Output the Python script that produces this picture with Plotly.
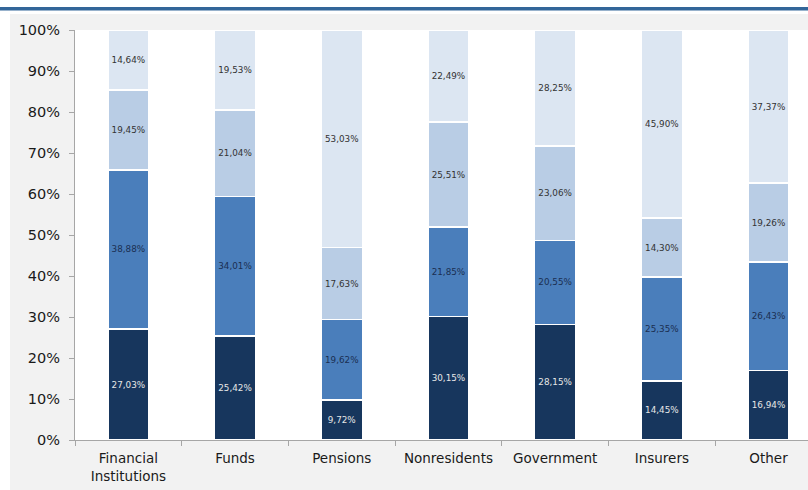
import plotly.graph_objects as go

categories = ["Financial<br>Institutions", "Funds", "Pensions", "Nonresidents", "Government", "Insurers", "Other"]
s1 = [27.03, 25.42, 9.72, 30.15, 28.15, 14.45, 16.94]
s2 = [38.88, 34.01, 19.62, 21.85, 20.55, 25.35, 26.43]
s3 = [19.45, 21.04, 17.63, 25.51, 23.06, 14.30, 19.26]
s4 = [14.64, 19.53, 53.03, 22.49, 28.25, 45.90, 37.37]
y_ticks = [0, 10, 20, 30, 40, 50, 60, 70, 80, 90, 100]
y_tick_labels = [f"{v}%" for v in y_ticks]

series = [
    (s1, "#17365d", "#e6e6e6"),
    (s2, "#4a7ebb", "#1b2f52"),
    (s3, "#b9cde5", "#333333"),
    (s4, "#dce6f2", "#333333"),
]

def fmt(v):
    return f"{v:.2f}".replace(".", ",") + "%"

fig = go.Figure()
for vals, col, tcol in series:
    fig.add_trace(go.Bar(
        x=categories, y=vals, width=0.385,
        marker=dict(color=col, line=dict(color="#ffffff", width=1.5)),
        text=[fmt(v) for v in vals], textposition="inside",
        insidetextanchor="middle", textangle=0, constraintext="none",
        textfont=dict(family="DejaVu Sans", size=8.8, color=tcol),
        hoverinfo="skip",
    ))

W, H = 808, 490
L, R, T, B = 75, 0, 30, 50
pw, ph = W - L - R, H - T - B

def px_x(x):
    return (x - L) / pw

def px_y(y):
    return (H - B - y) / ph

fig.update_layout(
    width=W, height=H,
    margin=dict(l=L, r=R, t=T, b=B, pad=0),
    barmode="stack",
    showlegend=False,
    paper_bgcolor="#f2f2f2",
    plot_bgcolor="#ffffff",
    shapes=[
        dict(type="rect", xref="paper", yref="paper", layer="above",
             x0=px_x(0), x1=px_x(W), y0=px_y(0), y1=px_y(14),
             fillcolor="#ffffff", line=dict(width=0)),
        dict(type="rect", xref="paper", yref="paper", layer="above",
             x0=px_x(0), x1=px_x(10), y0=px_y(0), y1=px_y(H),
             fillcolor="#ffffff", line=dict(width=0)),
        dict(type="rect", xref="paper", yref="paper", layer="above",
             x0=px_x(0), x1=px_x(W), y0=px_y(7), y1=px_y(10.5),
             fillcolor="#336699", line=dict(width=0)),
    ],
    xaxis=dict(
        range=[-0.5, 6.37], type="category",
        showline=True, linecolor="#a6a6a6", linewidth=1,
        ticks="outside", tickson="boundaries", ticklen=5, tickcolor="#a6a6a6",
        tickfont=dict(family="DejaVu Sans", size=13.5, color="#1a1a1a"),
        ticklabelstandoff=6,
        showgrid=False, fixedrange=True,
    ),
    yaxis=dict(
        range=[0, 100], tickvals=y_ticks, ticktext=y_tick_labels,
        showline=True, linecolor="#a6a6a6", linewidth=1,
        ticks="outside", ticklen=5, tickcolor="#a6a6a6",
        tickfont=dict(family="DejaVu Sans", size=14.5, color="#1a1a1a"),
        ticklabelstandoff=6,
        showgrid=False, zeroline=False, fixedrange=True,
    ),
)

fig.write_html("out.html")
